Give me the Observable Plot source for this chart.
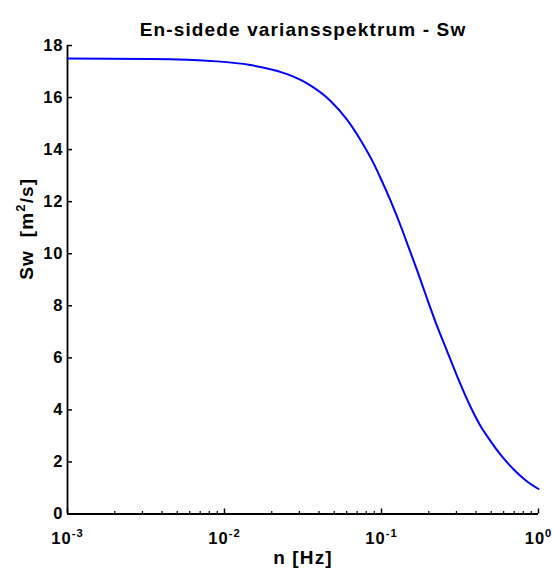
<!DOCTYPE html>
<html><head><meta charset="utf-8">
<script src="https://cdn.jsdelivr.net/npm/d3@7"></script>
<script src="https://cdn.jsdelivr.net/npm/@observablehq/plot@0.6"></script>
<style>
body{margin:0;background:#fff}
svg text{letter-spacing:0.06em}
</style>
</head><body><div id="chart"></div>
<script>
const freqHz = [0.001, 0.00336, 0.00894, 0.0146, 0.0237, 0.0303, 0.0352, 0.0472, 0.0603, 0.0733, 0.0891, 0.0984, 0.114, 0.135, 0.146, 0.17, 0.195, 0.226, 0.262, 0.303, 0.369, 0.42, 0.495, 0.58, 0.693, 0.83, 1.0];
const swValues = [17.50, 17.48, 17.39, 17.25, 16.95, 16.69, 16.47, 15.88, 15.15, 14.38, 13.47, 12.92, 12.05, 10.94, 10.38, 9.30, 8.28, 7.22, 6.25, 5.30, 4.12, 3.46, 2.80, 2.24, 1.72, 1.29, 0.96];
const xTickValues = [0.001, 0.01, 0.1, 1];
const xTickLabels = ["10^-3", "10^-2", "10^-1", "10^0"];
const xMinorTicks = [0.002,0.003,0.004,0.005,0.006,0.007,0.008,0.009,0.02,0.03,0.04,0.05,0.06,0.07,0.08,0.09,0.2,0.3,0.4,0.5,0.6,0.7,0.8,0.9];
const yTickValues = [0, 2, 4, 6, 8, 10, 12, 14, 16, 18];
const titleText = "En-sidede variansspektrum - Sw";
const xLabelText = "n [Hz]";
const yLabelText = "Sw  [m^2/s]";

const data = freqHz.map((n, i) => ({n, sw: swValues[i]}));
const font = '"Liberation Sans", Arial, Helvetica, sans-serif';

const chart = Plot.plot({
  width: 553, height: 576,
  marginLeft: 67, marginRight: 15, marginTop: 45, marginBottom: 62.5,
  style: {fontFamily: font, fontSize: "16.5px", fontWeight: "bold", color: "#000", background: "#fff", overflow: "visible"},
  x: {type: "log", domain: [0.001, 1]},
  y: {domain: [0, 18]},
  marks: [
    Plot.axisX(xMinorTicks, {tickSize: -2.5, text: null, label: null, stroke: "#000", strokeWidth: 1.2}),
    Plot.axisX(xTickValues, {tickSize: -5, tickPadding: 23.5, label: null, stroke: "#000", strokeWidth: 1.5,
      tickFormat: d => xTickLabels[xTickValues.indexOf(d)], fontSize: 16.5}),
    Plot.axisY(yTickValues, {tickSize: -5, tickPadding: 9, label: null, stroke: "#000", strokeWidth: 1.5, fontSize: 16.5}),
    Plot.ruleX([0.001], {stroke: "#000", strokeWidth: 1.8}),
    Plot.ruleY([0], {stroke: "#000", strokeWidth: 1.8}),
    Plot.line(data, {x: "n", y: "sw", stroke: "#0000ff", strokeWidth: 2, curve: "monotone-x"}),
    Plot.text([titleText], {frameAnchor: "top", dy: -22.6, fontSize: 19, fontWeight: "bold", fill: "#000"}),
    Plot.text([xLabelText], {frameAnchor: "bottom", dy: 50, fontSize: 19, fontWeight: "bold", fill: "#000"}),
    Plot.text([yLabelText], {frameAnchor: "left", dx: -40.5, rotate: -90, fontSize: 19, fontWeight: "bold", fill: "#000"})
  ]
});

// render "^" exponents as real superscript tspans
d3.select(chart).selectAll("text").each(function() {
  const el = this;
  if (el.querySelector("tspan")) return;
  const s = el.textContent;
  const m = s.match(/^(.*?)\^(-?\d+)(.*)$/);
  if (!m) return;
  let fs = parseFloat(el.getAttribute("font-size"));
  if (!fs) {
    let p = el.parentNode;
    while (p && !fs) { fs = parseFloat(p.getAttribute && p.getAttribute("font-size")); p = p.parentNode; }
  }
  if (!fs) fs = 16.5;
  el.textContent = "";
  const sel = d3.select(el);
  sel.append("tspan").text(m[1]);
  sel.append("tspan").attr("font-size", fs * 0.68).attr("dy", -fs * 0.45).text(m[2]);
  if (m[3]) sel.append("tspan").attr("dy", fs * 0.45).text(m[3]);
});

document.getElementById("chart").appendChild(chart);
</script>
</body></html>
